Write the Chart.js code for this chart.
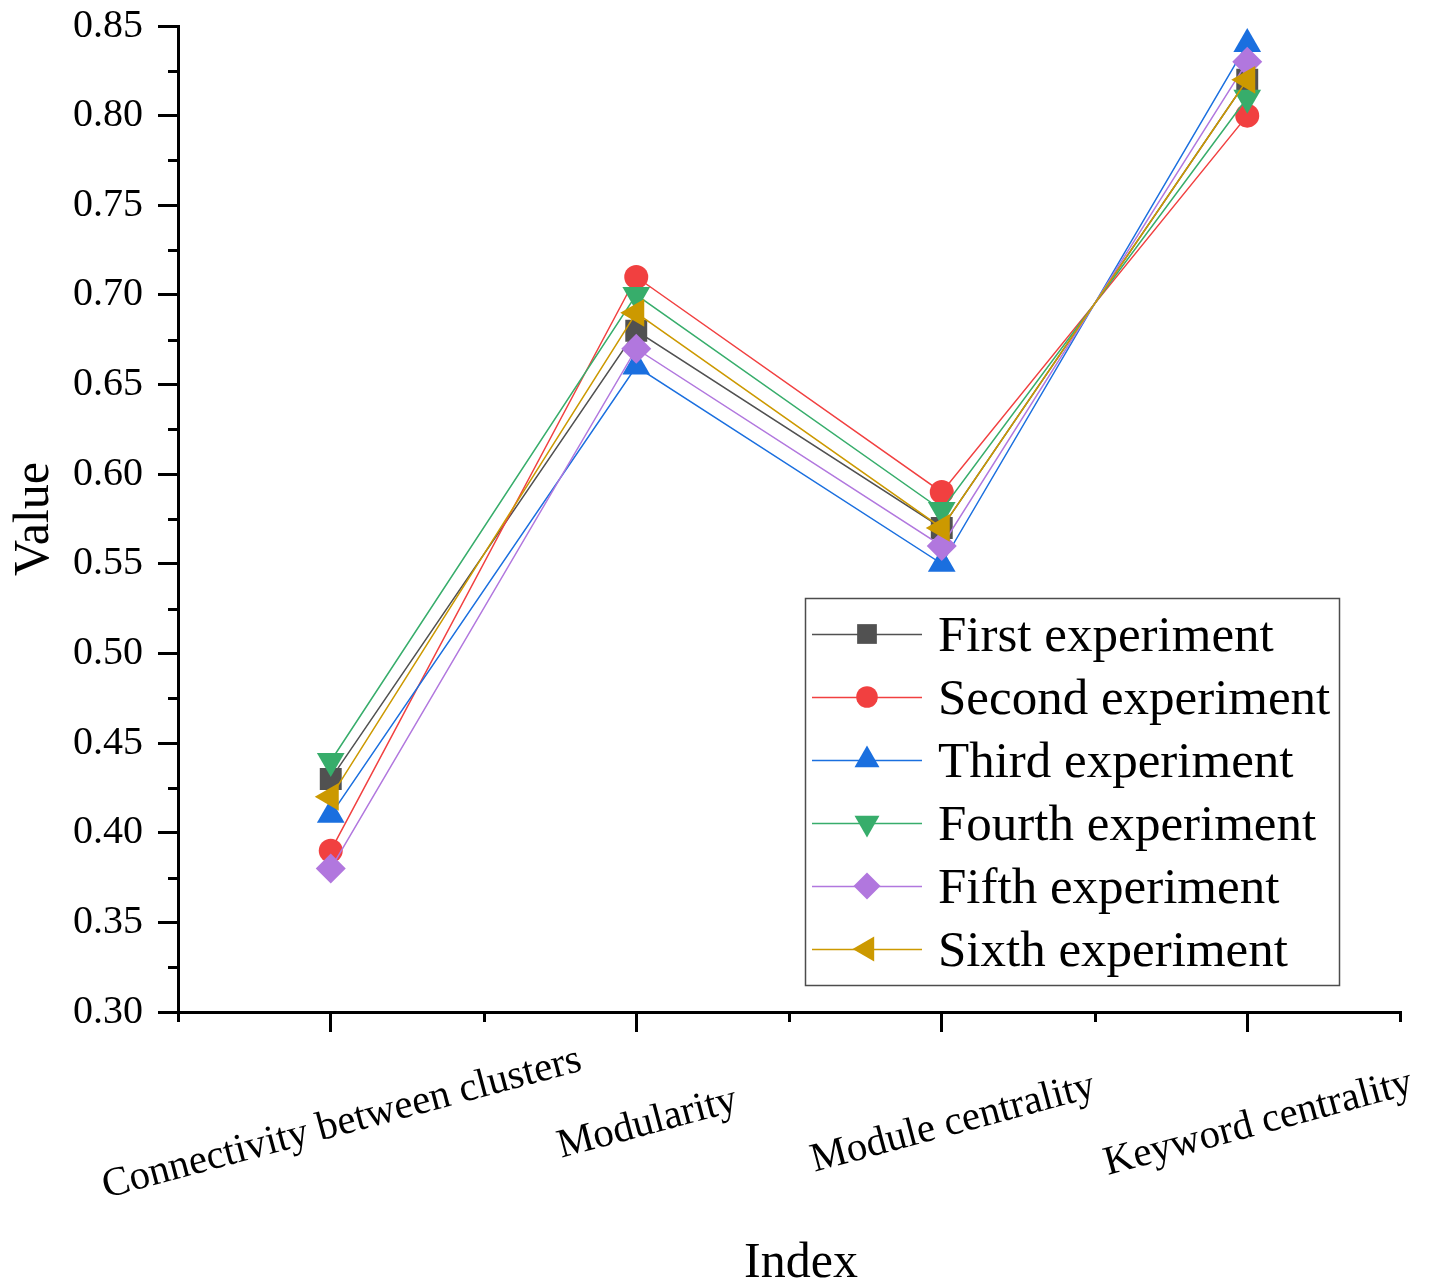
<!DOCTYPE html>
<html>
<head>
<meta charset="utf-8">
<title>Index values per experiment</title>
<script src="https://cdn.jsdelivr.net/npm/chart.js@4/dist/chart.umd.min.js"></script>
<style>
  html, body { margin: 0; padding: 0; background: #ffffff; }
  #wrap { width: 1437px; height: 1287px; }
</style>
</head>
<body>
<div id="wrap"><canvas id="chart" width="1437" height="1287"></canvas></div>
<script>
// Categories on the x axis
const categories = ['Connectivity between clusters', 'Modularity', 'Module centrality', 'Keyword centrality'];

// Series values, one array per experiment
const firstExperiment  = [0.43, 0.68, 0.57, 0.82];
const secondExperiment = [0.39, 0.71, 0.59, 0.80];
const thirdExperiment  = [0.41, 0.66, 0.55, 0.84];
const fourthExperiment = [0.44, 0.70, 0.58, 0.81];
const fifthExperiment  = [0.38, 0.67, 0.56, 0.83];
const sixthExperiment  = [0.42, 0.69, 0.57, 0.82];

const seriesNames = ['First experiment', 'Second experiment', 'Third experiment',
                     'Fourth experiment', 'Fifth experiment', 'Sixth experiment'];

// Y axis range and step
const yMin = 0.30;
const yMax = 0.85;
const yStep = 0.05;

const FONT = '"Liberation Serif", "Times New Roman", serif';

const seriesValues = [firstExperiment, secondExperiment, thirdExperiment,
                      fourthExperiment, fifthExperiment, sixthExperiment];
const seriesColors = ['#515151', '#F14040', '#1A6FDF', '#37AD6B', '#B177DE', '#CC9900'];
const seriesMarkers = [
  { style: 'rect',     radius: 15.5, rotation: 0 },
  { style: 'circle',   radius: 12,   rotation: 0 },
  { style: 'triangle', radius: 16,   rotation: 0 },
  { style: 'triangle', radius: 16,   rotation: 180 },
  { style: 'rectRot',  radius: 15,   rotation: 0 },
  { style: 'triangle', radius: 16,   rotation: -90 }
];

const datasets = seriesValues.map((vals, i) => ({
  label: seriesNames[i],
  data: vals,
  borderColor: seriesColors[i],
  backgroundColor: seriesColors[i],
  borderWidth: 1.5,
  pointStyle: seriesMarkers[i].style,
  pointRadius: seriesMarkers[i].radius,
  pointRotation: seriesMarkers[i].rotation,
  pointBorderWidth: 0,
  pointHoverRadius: seriesMarkers[i].radius,
  tension: 0,
  fill: false,
  order: seriesValues.length - i
}));

// Minor ticks, rotated category labels, x title and the framed legend
const decorations = {
  id: 'decorations',
  afterDraw(chart) {
    const ctx = chart.ctx;
    const xs = chart.scales.x;
    const ys = chart.scales.y;
    const area = chart.chartArea;

    ctx.save();
    ctx.strokeStyle = '#000000';
    ctx.lineWidth = 3;
    ctx.lineCap = 'butt';
    // minor y ticks
    for (let v = yMin + yStep / 2; v < yMax; v += yStep) {
      const py = Math.round(ys.getPixelForValue(v)) + 0.5;
      ctx.beginPath();
      ctx.moveTo(area.left, py);
      ctx.lineTo(area.left - 10, py);
      ctx.stroke();
    }
    // minor x ticks between categories and at the ends
    for (let k = -0.5; k <= categories.length - 0.5; k += 1) {
      const px = Math.round(xs.getPixelForValue(k)) + 0.5;
      ctx.beginPath();
      ctx.moveTo(px, area.bottom);
      ctx.lineTo(px, area.bottom + 10);
      ctx.stroke();
    }

    // rotated category labels, centred under their ticks
    ctx.fillStyle = '#000000';
    ctx.font = '41px ' + FONT;
    ctx.textAlign = 'center';
    ctx.textBaseline = 'alphabetic';
    categories.forEach((c, i) => {
      const px = xs.getPixelForValue(i);
      ctx.save();
      ctx.translate(px + 14, area.bottom + 122);
      ctx.rotate(-15 * Math.PI / 180);
      ctx.fillText(c, 0, 0);
      ctx.restore();
    });

    // x axis title
    ctx.font = '50px ' + FONT;
    ctx.textAlign = 'center';
    ctx.fillText('Index', 801, 1277);

    // legend frame
    const lx = 805, ly = 598, lw = 534, lh = 387;
    ctx.fillStyle = '#ffffff';
    ctx.fillRect(lx, ly, lw, lh);
    ctx.strokeStyle = '#4d4d4d';
    ctx.lineWidth = 1.5;
    ctx.strokeRect(lx + 0.5, ly + 0.5, lw, lh);

    chart.data.datasets.forEach((ds, i) => {
      const cy = 634 + i * 63;
      ctx.strokeStyle = ds.borderColor;
      ctx.lineWidth = 1.5;
      ctx.beginPath();
      ctx.moveTo(812, cy + 0.5);
      ctx.lineTo(922, cy + 0.5);
      ctx.stroke();
      ctx.fillStyle = ds.backgroundColor;
      Chart.helpers.drawPoint(ctx, {
        pointStyle: ds.pointStyle,
        radius: ds.pointRadius * 0.9,
        rotation: ds.pointRotation,
        borderWidth: 0
      }, 867, cy);
      ctx.fillStyle = '#000000';
      ctx.font = '51px ' + FONT;
      ctx.textAlign = 'left';
      ctx.textBaseline = 'alphabetic';
      ctx.fillText(ds.label, 938, cy + 17);
    });
    ctx.restore();
  }
};

new Chart(document.getElementById('chart'), {
  type: 'line',
  data: { labels: categories, datasets: datasets },
  options: {
    responsive: false,
    animation: false,
    events: [],
    layout: { padding: { top: 26, right: 37, bottom: 0, left: 0 } },
    plugins: {
      legend: { display: false },
      tooltip: { enabled: false },
      title: { display: false }
    },
    scales: {
      x: {
        type: 'category',
        offset: true,
        grid: {
          offset: false,
          drawOnChartArea: false,
          drawTicks: true,
          tickLength: 20,
          color: '#000000',
          lineWidth: 3
        },
        border: { display: true, color: '#000000', width: 3 },
        ticks: { display: false },
        afterFit(scale) {
          scale.height = 275;
          scale.paddingLeft = 0;
          scale.paddingRight = 0;
        }
      },
      y: {
        min: yMin,
        max: yMax,
        grid: {
          drawOnChartArea: false,
          drawTicks: true,
          tickLength: 20,
          color: '#000000',
          lineWidth: 3
        },
        border: { display: true, color: '#000000', width: 3 },
        ticks: {
          stepSize: yStep,
          padding: 15,
          color: '#000000',
          font: { family: FONT, size: 40 },
          callback: (v) => Number(v).toFixed(2)
        },
        title: {
          display: true,
          text: 'Value',
          color: '#000000',
          font: { family: FONT, size: 50, lineHeight: 1.2 },
          padding: { top: 5, bottom: 0 }
        },
        afterFit(scale) {
          scale.width = 178;
          scale.paddingTop = 0;
          scale.paddingBottom = 0;
        }
      }
    }
  },
  plugins: [decorations]
});
</script>
</body>
</html>
